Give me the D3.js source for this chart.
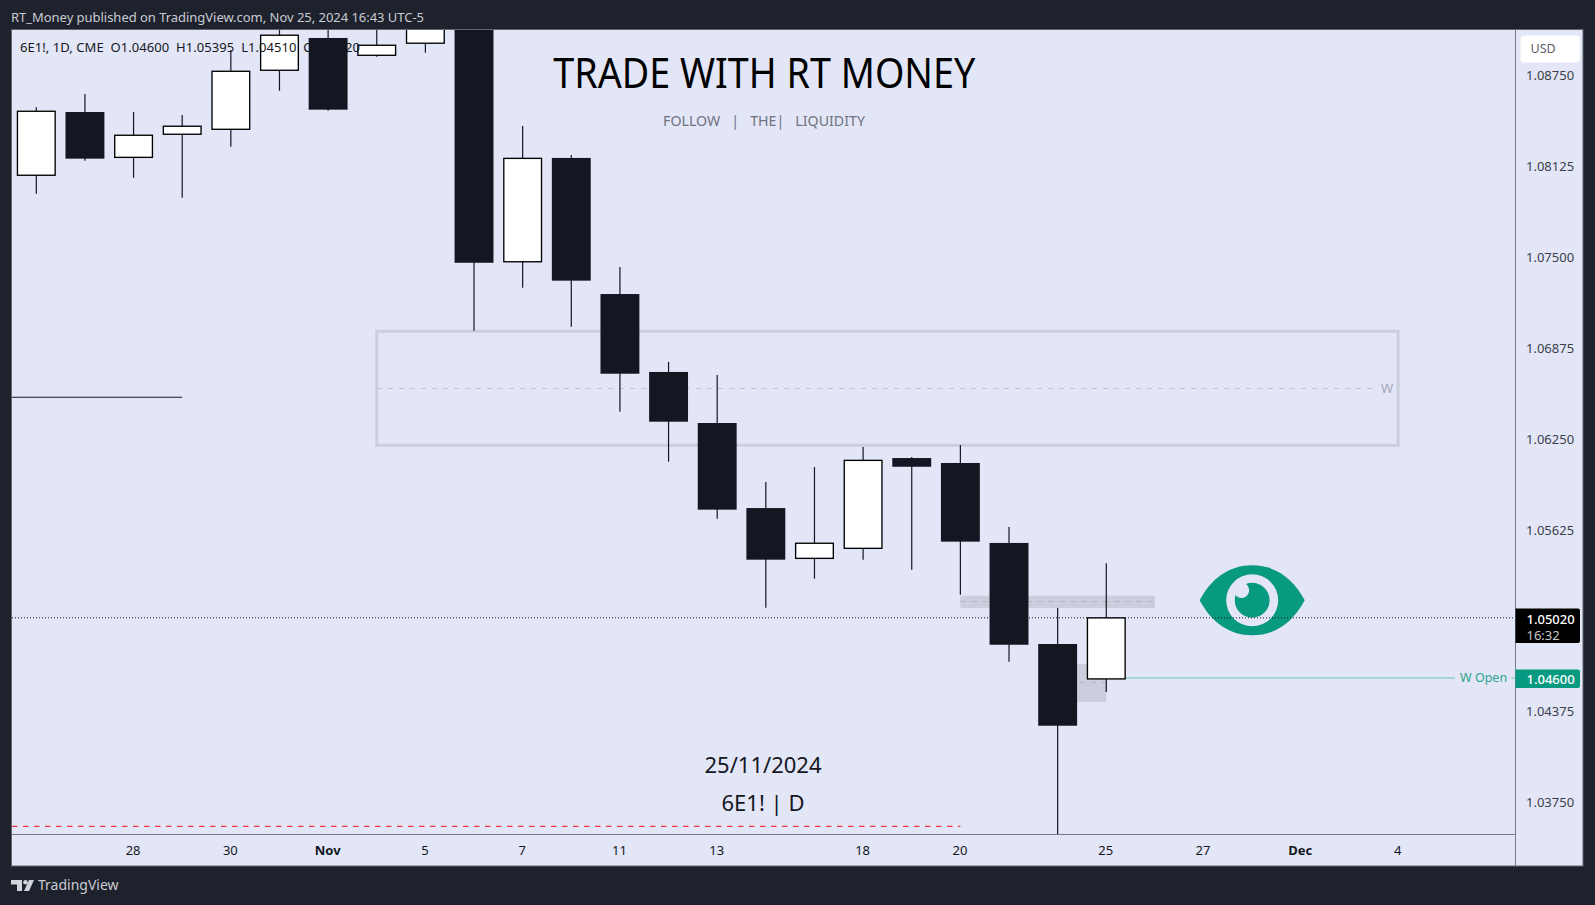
<!DOCTYPE html>
<html><head><meta charset="utf-8">
<script src="https://cdn.jsdelivr.net/npm/d3@7"></script>
<style>html,body{margin:0;padding:0;background:#1e222d;overflow:hidden}svg{display:block}text{font-family:"Noto Sans",sans-serif}</style>
</head><body><svg id="c" width="1595" height="905"></svg>
<script>
const categories=["Oct 24","Oct 25","Oct 28","Oct 29","Oct 30","Oct 31","Nov 1","Nov 4","Nov 5","Nov 6","Nov 7","Nov 8","Nov 11","Nov 12","Nov 13","Nov 14","Nov 15","Nov 18","Nov 19","Nov 20","Nov 21","Nov 22","Nov 25","Nov 26","Nov 27","Nov 29","Dec 2","Dec 3","Dec 4"];
const opens =[1.08064,1.08499,1.08187,1.08346,1.08380,1.08786,1.09008,1.08889,1.08972,1.09500,1.07469,1.08183,1.07247,1.06711,1.06360,1.05775,1.05429,1.05498,1.06119,1.06085,1.05535,1.04840,1.04600];
const highs =[1.08531,1.08623,1.08499,1.08478,1.08925,1.09130,1.09200,1.09150,1.09250,1.09550,1.08403,1.08203,1.07433,1.06780,1.06690,1.05954,1.06057,1.06195,1.06126,1.06209,1.05645,1.05088,1.05395];
const lows  =[1.07937,1.08164,1.08047,1.07910,1.08260,1.08645,1.08508,1.08879,1.08907,1.06995,1.07291,1.07022,1.06438,1.06094,1.05702,1.05090,1.05289,1.05420,1.05351,1.05179,1.04718,1.03450,1.04510];
const closes=[1.08504,1.08178,1.08339,1.08401,1.08779,1.09027,1.08515,1.08958,1.09120,1.07462,1.08180,1.07339,1.06699,1.06369,1.05764,1.05420,1.05533,1.06103,1.06059,1.05544,1.04835,1.04278,1.05020];
const priceTicks=[1.0875,1.08125,1.075,1.06875,1.0625,1.05625,1.04375,1.0375];
const dateTicks=["Oct 28","Oct 30","Nov 1","Nov 5","Nov 7","Nov 11","Nov 13","Nov 18","Nov 20","Nov 25","Nov 27","Dec 2","Dec 4"];
const dateTickLabels=["28","30","Nov","5","7","11","13","18","20","25","27","Dec","4"];
const lastPrice=1.0502, weeklyOpen=1.046;
const bigBox={from:"Nov 4",to:"Dec 4",top:1.06991,bottom:1.06207,mid:1.06599};
const zones=[{from:"Nov 20",to:"Nov 26",top:1.05172,bottom:1.05087,mid:1.05134},{from:"Nov 22",to:"Nov 25",top:1.04702,bottom:1.04441,mid:1.04576}];
const blackLevel={to:"Oct 29",price:1.06537};
const redLevel={to:"Nov 20",price:1.03586};
const eyeAnchor={cat:"Nov 29",price:1.05134};

const L=12,R=1515.5,T=30,B=834,FR=1583,FB=866;
const DARK="#131722",TEAL="#089981",BG="#e2e6f7";
const svg=d3.select("#c");
const x=d3.scalePoint().domain(categories).range([36.3,1398.1]);
const y=d3.scaleLinear().domain([1.0375,1.0875]).range([802.5,75.5]);
const bw=x.step()*0.8;

svg.append("rect").attr("x",11.5).attr("y",29.5).attr("width",FR-11.5).attr("height",FB-29.5).attr("fill",BG).attr("stroke","#62656f");
svg.append("defs").append("clipPath").attr("id","pc").append("rect").attr("x",L).attr("y",T).attr("width",R-L).attr("height",B-T);
const p=svg.append("g").attr("clip-path","url(#pc)");

// annotation boxes and levels
const zoneG="#cbcedd", dashG="#b4b6c5";
p.append("rect").attr("x",x(bigBox.from)).attr("y",y(bigBox.top)).attr("width",x(bigBox.to)-x(bigBox.from)).attr("height",y(bigBox.bottom)-y(bigBox.top)).attr("fill","none").attr("stroke",zoneG).attr("stroke-width",3);
p.append("line").attr("x1",x(bigBox.from)).attr("x2",1378).attr("y1",y(bigBox.mid)).attr("y2",y(bigBox.mid)).attr("stroke","#c0c2d1").attr("stroke-dasharray","5.5 5.5").attr("shape-rendering","crispEdges");
p.append("text").attr("x",1387).attr("y",y(bigBox.mid)).attr("dy","0.35em").attr("text-anchor","middle").attr("font-size",13).attr("fill","#a6a8b6").text("W");
zones.forEach(z=>{
  p.append("rect").attr("x",x(z.from)).attr("y",y(z.top)).attr("width",x(z.to)-x(z.from)).attr("height",y(z.bottom)-y(z.top)).attr("fill",zoneG);
  p.append("line").attr("x1",x(z.from)).attr("x2",x(z.to)).attr("y1",y(z.mid)).attr("y2",y(z.mid)).attr("stroke",dashG).attr("stroke-dasharray","5.5 5.5").attr("shape-rendering","crispEdges");
});
p.append("line").attr("x1",L).attr("x2",x(blackLevel.to)).attr("y1",y(blackLevel.price)).attr("y2",y(blackLevel.price)).attr("stroke",DARK).attr("stroke-width",1.1);
p.append("line").attr("x1",L).attr("x2",x(redLevel.to)).attr("y1",y(redLevel.price)).attr("y2",y(redLevel.price)).attr("stroke","#f23645").attr("stroke-dasharray","5.5 5.5").attr("stroke-width",1.1);

// weekly open line
const lastCat=categories[closes.length-1];
const wy=y(weeklyOpen)-0.8;
p.append("line").attr("x1",x(lastCat)).attr("x2",1455).attr("y1",wy).attr("y2",wy).attr("stroke","#a6d3d6").attr("stroke-width",2);
p.append("line").attr("x1",1511.5).attr("x2",R).attr("y1",wy).attr("y2",wy).attr("stroke","#a6d3d6").attr("stroke-width",2);
p.append("text").attr("x",1460).attr("y",wy).attr("dy","0.35em").attr("font-size",12.5).attr("fill","#2ca58d").text("W Open");

// candles
const cats=categories.slice(0,closes.length);
const g=p.selectAll("g.c").data(cats).join("g").attr("class","c");
g.append("line").attr("x1",d=>x(d)).attr("x2",d=>x(d)).attr("y1",(d,i)=>y(highs[i])).attr("y2",(d,i)=>y(lows[i])).attr("stroke",DARK).attr("stroke-width",1.2);
g.append("rect").attr("x",(d,i)=>x(d)-bw/2+(closes[i]>=opens[i]?0.6:0)).attr("width",(d,i)=>bw-(closes[i]>=opens[i]?1.2:0))
 .attr("y",(d,i)=>y(Math.max(opens[i],closes[i]))).attr("height",(d,i)=>Math.max(1,Math.abs(y(opens[i])-y(closes[i]))))
 .attr("fill",(d,i)=>closes[i]>=opens[i]?"#fff":DARK).attr("stroke",(d,i)=>closes[i]>=opens[i]?"#000":"none").attr("stroke-width",1.35);

// eye icon
const eye=p.append("g").attr("transform",`translate(${x(eyeAnchor.cat)},${y(eyeAnchor.price)-1})`);
eye.append("path").attr("fill",TEAL).attr("d","M-52.5 0C-41 -22 -23 -35 0 -35C23 -35 41 -22 52.5 0C41 22 23 35 0 35C-23 35 -41 22 -52.5 0Z");
eye.append("circle").attr("r",26).attr("fill",BG);
eye.append("circle").attr("r",17.4).attr("fill",TEAL);
eye.append("circle").attr("cx",-10.7).attr("cy",-10).attr("r",7.7).attr("fill",BG);

// last price dotted line
p.append("line").attr("x1",L).attr("x2",R).attr("y1",y(lastPrice)).attr("y2",y(lastPrice)).attr("stroke",DARK).attr("stroke-dasharray","1 2");

// axes
svg.append("line").attr("x1",R).attr("x2",R).attr("y1",T).attr("y2",FB).attr("stroke","#787b86");
svg.append("line").attr("x1",L).attr("x2",R).attr("y1",B+.5).attr("y2",B+.5).attr("stroke","#787b86");
const ya=svg.append("g").attr("transform",`translate(${R},0)`).call(d3.axisRight(y).tickValues(priceTicks).tickSize(0).tickPadding(10.5).tickFormat(d3.format(".5f")));
ya.select(".domain").remove();
ya.selectAll("text").attr("font-family",'"Noto Sans",sans-serif').attr("font-size",13).attr("fill","#3c3f4a");
const xa=svg.append("g").attr("transform",`translate(-1,${B+12})`).call(d3.axisBottom(x).tickValues(dateTicks).tickSize(0).tickPadding(0).tickFormat((d,i)=>dateTickLabels[i]));
xa.select(".domain").remove();
xa.selectAll("text").attr("font-family",'"Noto Sans",sans-serif').attr("font-size",13).attr("fill",DARK).attr("font-weight",(d,i)=>isNaN(+dateTickLabels[i])?700:400);

// price labels
svg.append("path").attr("d",`M${R} 608.5H1578a2 2 0 0 1 2 2V641a2 2 0 0 1 -2 2H${R}Z`).attr("fill","#000");
svg.append("text").attr("x",1526.5).attr("y",619).attr("dy","0.35em").attr("font-size",13).attr("font-weight",500).attr("fill","#fff").text(d3.format(".5f")(lastPrice));
svg.append("text").attr("x",1526.5).attr("y",635).attr("dy","0.35em").attr("font-size",13).attr("fill","#c8c8c8").text("16:32");
svg.append("path").attr("d",`M${R} 669.5H1578a2 2 0 0 1 2 2V686a2 2 0 0 1 -2 2H${R}Z`).attr("fill",TEAL);
svg.append("text").attr("x",1526.5).attr("y",679).attr("dy","0.35em").attr("font-size",13).attr("font-weight",500).attr("fill","#fff").text(d3.format(".5f")(weeklyOpen));
svg.append("rect").attr("x",1520.5).attr("y",35.5).attr("width",59.5).attr("height",27).attr("rx",4).attr("fill","#fff");
svg.append("text").attr("x",1530.5).attr("y",49).attr("dy","0.35em").attr("font-size",12.5).attr("fill","#5d606b").text("USD");

// texts
svg.append("text").attr("x",11).attr("y",17).attr("dy","0.35em").attr("font-size",13).attr("textLength",413).attr("fill","#c9cbd2").text("RT_Money published on TradingView.com, Nov 25, 2024 16:43 UTC-5");
svg.append("text").attr("x",20).attr("y",47).attr("dy","0.35em").attr("font-size",13).attr("textLength",340).attr("fill",DARK).style("white-space","pre").text("6E1!, 1D, CME  O1.04600  H1.05395  L1.04510  C1.05020");
svg.append("text").attr("x",553.3).attr("y",73).attr("dy","0.36em").attr("font-family","Lato").attr("font-size",41).attr("textLength",422).attr("lengthAdjust","spacingAndGlyphs").attr("fill","#000").text("TRADE WITH RT MONEY");
svg.append("text").attr("x",764).attr("y",121.5).attr("dy","0.35em").attr("text-anchor","middle").attr("font-size",14.2).attr("fill","#6f7280").style("white-space","pre").text("FOLLOW   |   THE|   LIQUIDITY");
svg.append("text").attr("x",763).attr("y",765).attr("dy","0.35em").attr("text-anchor","middle").attr("font-size",22).attr("fill",DARK).text("25/11/2024");
svg.append("text").attr("x",763).attr("y",803).attr("dy","0.35em").attr("text-anchor","middle").attr("font-size",22).attr("fill",DARK).text("6E1! | D");

// footer
const ft=svg.append("g").attr("fill","#d1d4dc");
ft.append("path").attr("d","M11 880H22V891H17V884.5H11Z");
ft.append("circle").attr("cx",25.5).attr("cy",882.2).attr("r",2.3);
ft.append("path").attr("d","M29 880H34L29 891H24Z");
svg.append("text").attr("x",38).attr("y",885.5).attr("dy","0.35em").attr("font-size",14).attr("fill","#c9cbd2").text("TradingView");
</script></body></html>
